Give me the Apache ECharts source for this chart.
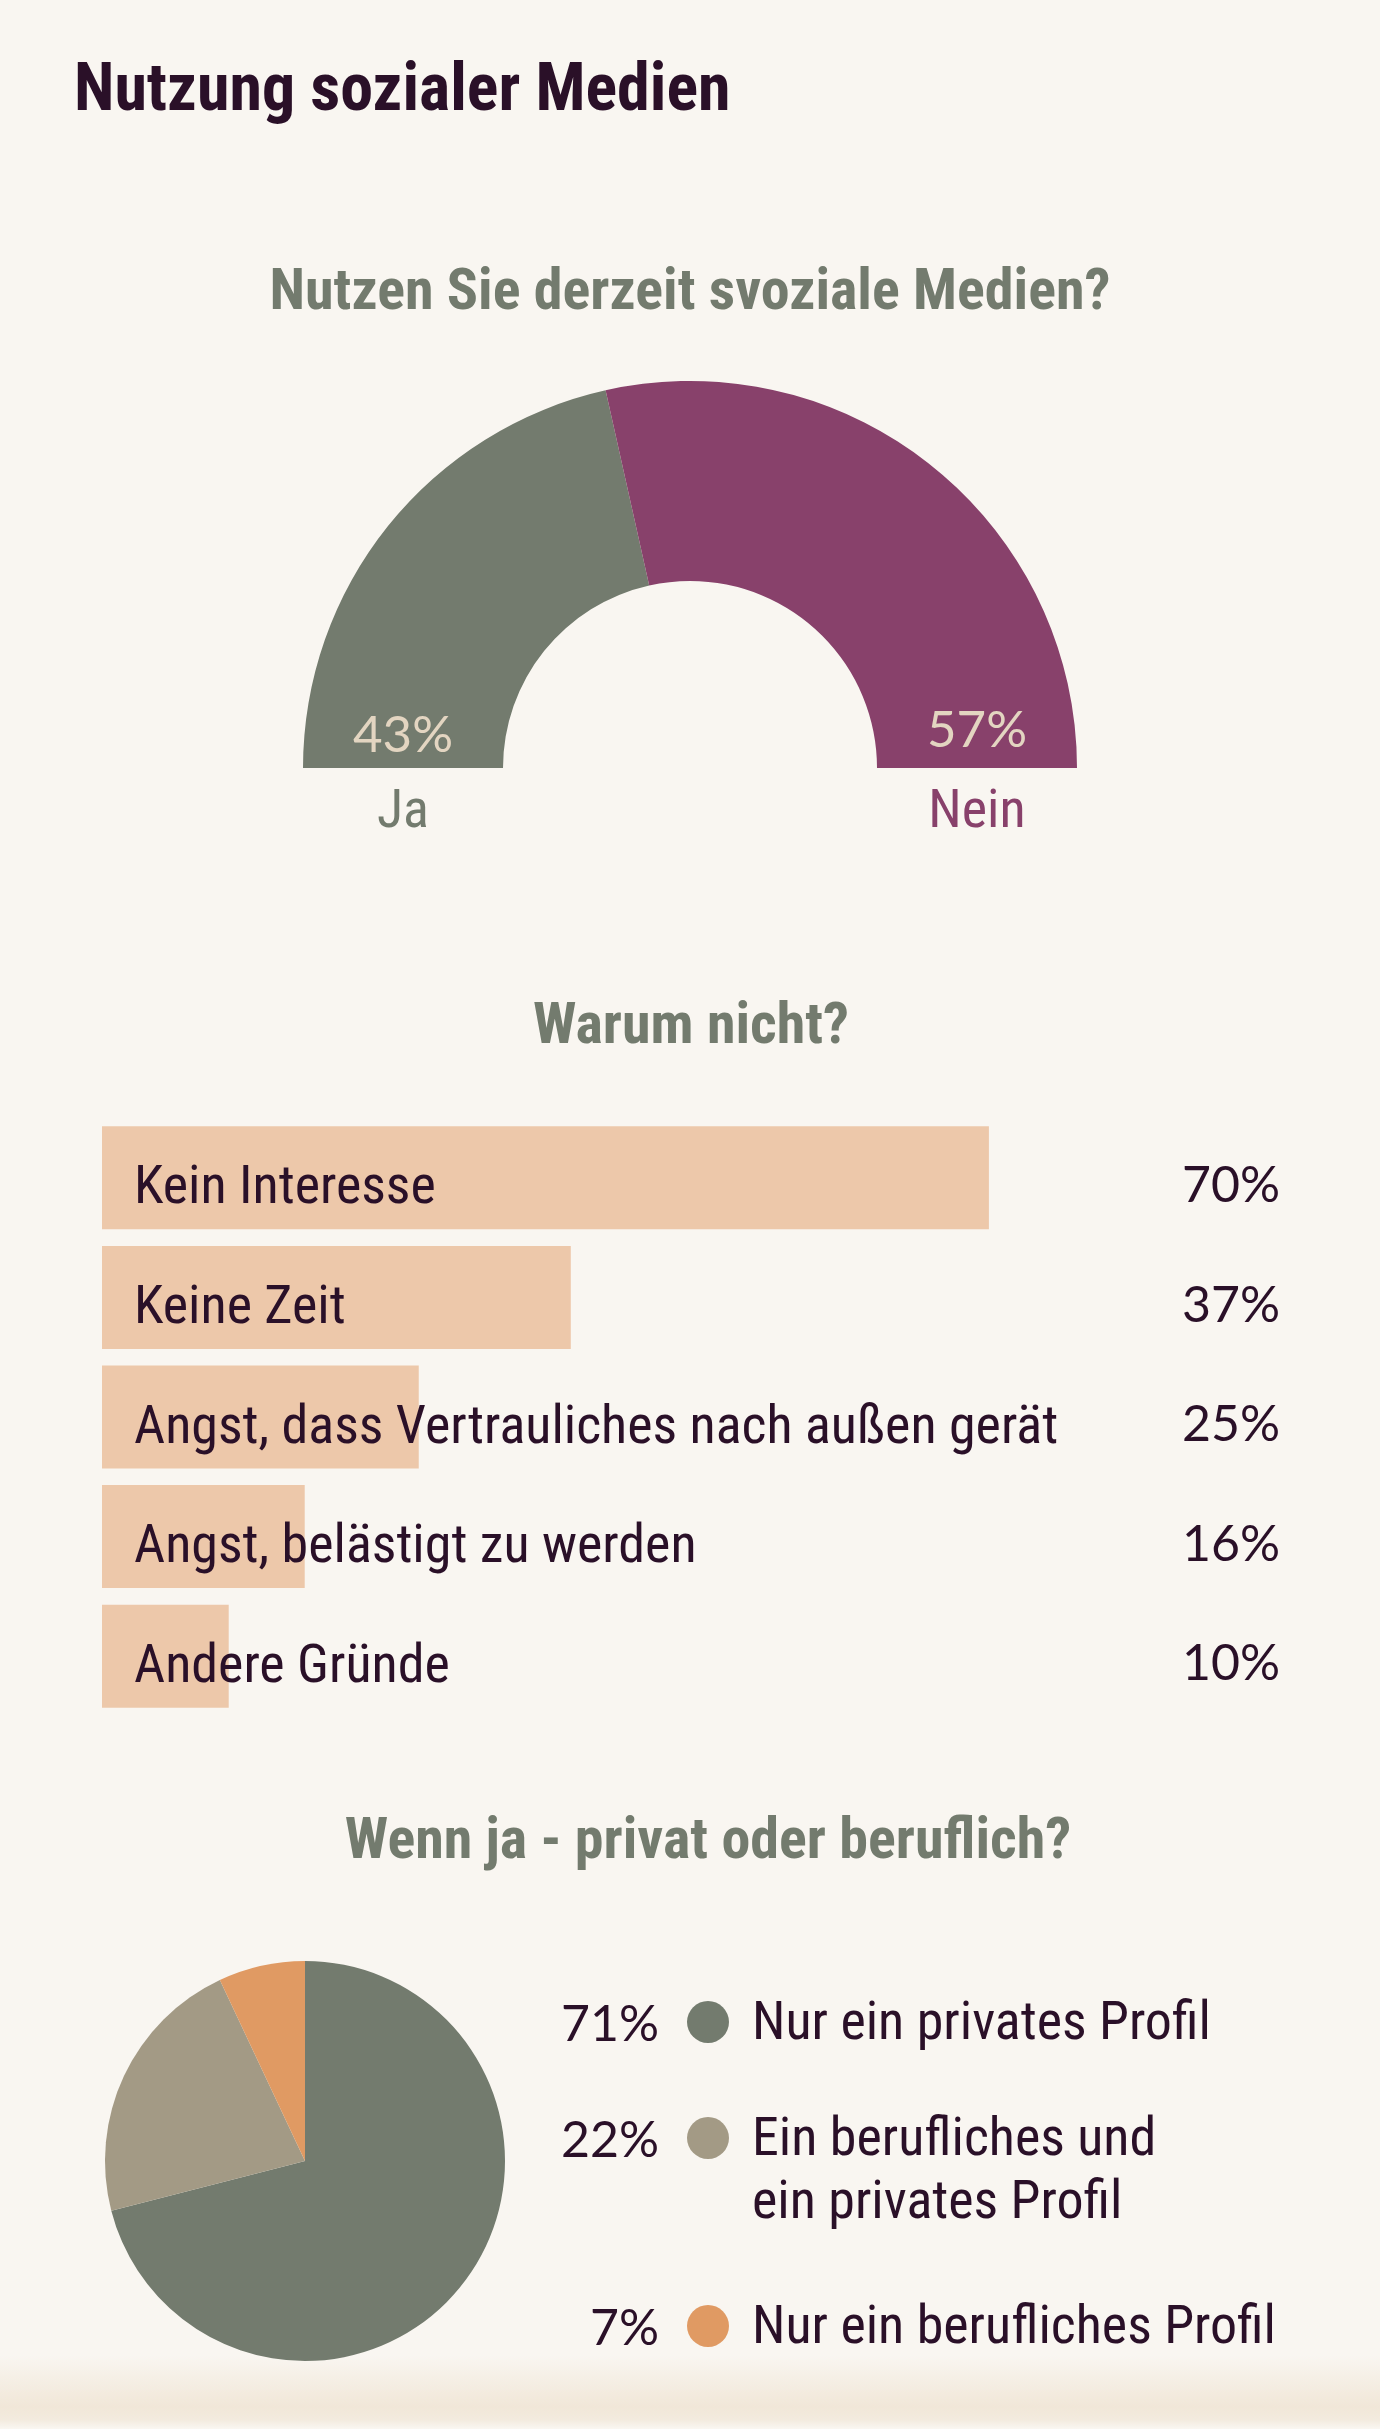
<!DOCTYPE html>
<html>
<head>
<meta charset="utf-8">
<script src="https://cdn.jsdelivr.net/npm/echarts@6/dist/echarts.min.js"></script>
<style>
  html, body { margin: 0; padding: 0; background: #F9F6F1; }
  #chart { width: 1380px; height: 2429px; }
</style>
</head>
<body>
<div id="chart"></div>
<script>
// --- data ---
var useNames = ['Ja', 'Nein'];
var useValues = [43, 57];

var reasonNames = [
  'Kein Interesse',
  'Keine Zeit',
  'Angst, dass Vertrauliches nach außen gerät',
  'Angst, belästigt zu werden',
  'Andere Gründe'
];
var reasonValues = [70, 37, 25, 16, 10];

var profileNames = [
  'Nur ein privates Profil',
  'Ein berufliches und\nein privates Profil',
  'Nur ein berufliches Profil'
];
var profileValues = [71, 22, 7];

// --- styles ---
var COND = '"Liberation Sans Narrow", "Roboto Condensed", "DejaVu Sans Condensed", sans-serif';
var NUM = 'Lato, "Open Sans", sans-serif';
var DARK = '#2A1028';
var GRAY = '#737B6E';
var PURPLE = '#88416B';
var BEIGE = '#E3D5C1';
var useColors = [GRAY, PURPLE];
var profileColors = [GRAY, '#A39A85', '#E09A63'];

var chart = echarts.init(document.getElementById('chart'));

function txt(text, x, y, size, color, align, weight, family) {
  return {
    type: 'text',
    z: 10,
    style: {
      text: text, x: x, y: y,
      fill: color,
      font: (weight || 'normal') + ' ' + size + 'px ' + (family || COND),
      textAlign: align, align: align,
      textVerticalAlign: 'middle', verticalAlign: 'middle'
    }
  };
}

// half donut geometry
var donutCenter = [690, 768];
var donutRadius = [187, 387];
var ringMid = (donutRadius[0] + donutRadius[1]) / 2;
var donutLabelX = [donutCenter[0] - ringMid, donutCenter[0] + ringMid];
var donutValueY = [736, 731];

// legend rows for the small pie
var legendY = [2022, 2138, 2326];
var legendLine = 63;

var graphics = [
  {
    type: 'rect', z: 0, silent: true,
    shape: { x: 0, y: 2355, width: 1380, height: 74 },
    style: {
      fill: new echarts.graphic.LinearGradient(0, 0, 0, 1, [
        { offset: 0, color: '#F9F6F1' },
        { offset: 0.7, color: '#F1E7D8' },
        { offset: 0.88, color: '#F3EBDF' },
        { offset: 1, color: '#FAF7F2' }
      ])
    }
  },
  txt('Nutzung sozialer Medien', 74, 93, 66, DARK, 'left', 'bold'),
  txt('Nutzen Sie derzeit svoziale Medien?', 690, 294, 58, GRAY, 'center', 'bold'),
  txt('Warum nicht?', 691, 1028, 58, GRAY, 'center', 'bold'),
  txt('Wenn ja - privat oder beruflich?', 708, 1843, 58, GRAY, 'center', 'bold')
];

useNames.forEach(function (n, i) {
  graphics.push(txt(useValues[i] + '%', donutLabelX[i], donutValueY[i], 51, BEIGE, 'center', 'normal', NUM));
  graphics.push(txt(n, donutLabelX[i], 813, 54, useColors[i], 'center'));
});

profileNames.forEach(function (n, i) {
  var cy = legendY[i];
  graphics.push(txt(profileValues[i] + '%', 659, cy + 3, 50, DARK, 'right', 'normal', NUM));
  graphics.push({
    type: 'circle', z: 10,
    shape: { cx: 708, cy: cy, r: 21 },
    style: { fill: profileColors[i] }
  });
  n.split('\n').forEach(function (line, k) {
    graphics.push(txt(line, 752, cy + 3 + k * legendLine, 54, DARK, 'left'));
  });
});

var option = {
  animation: false,
  backgroundColor: '#F9F6F1',
  grid: { left: 102, top: 1118, width: 1267, height: 598 },
  xAxis: { type: 'value', min: 0, max: 100, show: false },
  yAxis: [
    {
      type: 'category', inverse: true, data: reasonNames, z: 5,
      axisLine: { show: false }, axisTick: { show: false },
      axisLabel: {
        inside: true, margin: 32,
        formatter: function (v) { return '{t|' + v + '}'; },
        rich: {
          t: { color: DARK, fontFamily: COND, fontSize: 54, padding: [24, 0, 0, 0] }
        }
      }
    },
    {
      type: 'category', inverse: true, position: 'right', z: 5,
      data: reasonValues.map(function (v) { return v + '%'; }),
      axisLine: { show: false }, axisTick: { show: false },
      axisLabel: {
        inside: true, margin: 89,
        formatter: function (v) { return '{n|' + v + '}'; },
        rich: {
          n: { color: DARK, fontFamily: NUM, fontSize: 50, padding: [16, 0, 0, 0] }
        }
      }
    }
  ],
  series: [
    {
      type: 'pie',
      center: donutCenter,
      radius: donutRadius,
      startAngle: 180,
      endAngle: 0,
      clockwise: true,
      label: { show: false },
      emphasis: { disabled: true },
      data: useNames.map(function (n, i) {
        return { name: n, value: useValues[i], itemStyle: { color: useColors[i] } };
      })
    },
    {
      type: 'bar',
      yAxisIndex: 0,
      barWidth: 103,
      itemStyle: { color: '#EDC8AA' },
      z: 1,
      data: reasonValues
    },
    {
      type: 'pie',
      center: [305, 2161],
      radius: 200,
      startAngle: 90,
      clockwise: true,
      label: { show: false },
      emphasis: { disabled: true },
      data: profileNames.map(function (n, i) {
        return { name: n, value: profileValues[i], itemStyle: { color: profileColors[i] } };
      })
    }
  ],
  graphic: graphics
};

chart.setOption(option);
</script>
</body>
</html>
